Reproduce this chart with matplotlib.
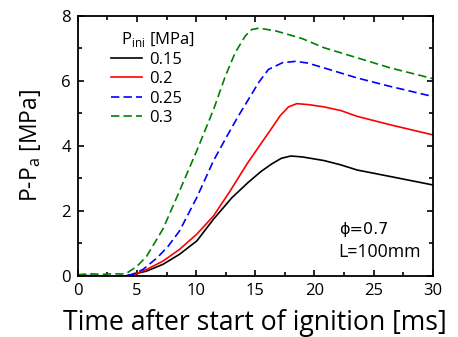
import numpy as np
import matplotlib
matplotlib.use("Agg")
import matplotlib.pyplot as plt
from matplotlib.ticker import MultipleLocator

plt.rcParams['font.family'] = ['Open Sans', 'DejaVu Sans']
plt.rcParams['mathtext.fontset'] = 'custom'
plt.rcParams['mathtext.rm'] = 'Open Sans'

# Pressure rise curves (time in ms, P-Pa in MPa)
t_015 = [0, 1, 2, 3, 4, 4.5, 5.8, 7.2, 8.6, 10.06, 11.47, 13.0, 14.4, 15.5, 16.4, 17.2, 18.0, 19.0, 20.8, 22.2, 23.6, 26.4, 30]
p_015 = [0.02, 0.01, 0.0, -0.02, 0.0, 0.04, 0.15, 0.36, 0.67, 1.08, 1.75, 2.4, 2.88, 3.22, 3.45, 3.62, 3.69, 3.66, 3.55, 3.42, 3.26, 3.06, 2.8]

t_02 = [0, 1, 2, 2.5, 3, 3.5, 4, 4.7, 5.8, 7.2, 8.6, 10.06, 11.47, 12.88, 14.3, 15.4, 16.3, 17.1, 17.8, 18.5, 19.5, 20.8, 22.2, 23.6, 26.4, 30]
p_02 = [0.02, 0.0, -0.02, -0.05, -0.06, -0.05, -0.02, 0.04, 0.2, 0.46, 0.82, 1.29, 1.85, 2.62, 3.45, 4.03, 4.5, 4.93, 5.2, 5.3, 5.27, 5.2, 5.09, 4.91, 4.65, 4.34]

t_025 = [0, 1, 2, 3, 4, 4.6, 5.5, 6.67, 7.6, 8.6, 10.06, 11.47, 12.6, 13.5, 14.4, 15.3, 16.1, 17.3, 18.4, 19.4, 20.8, 23.6, 26.4, 30]
p_025 = [0.03, 0.02, 0.0, -0.02, 0.0, 0.05, 0.2, 0.55, 0.9, 1.39, 2.42, 3.55, 4.3, 4.88, 5.42, 5.96, 6.35, 6.56, 6.6, 6.55, 6.4, 6.09, 5.83, 5.52]

t_03 = [0, 1, 2, 3, 3.7, 4.1, 5.0, 5.8, 7.2, 8.6, 10.06, 11.5, 12.46, 13.3, 14.15, 14.7, 15.3, 16.7, 18.96, 20.8, 23.6, 26.4, 30]
p_03 = [0.04, 0.07, 0.05, 0.07, 0.06, 0.08, 0.3, 0.6, 1.45, 2.62, 3.86, 5.15, 6.14, 6.87, 7.38, 7.58, 7.62, 7.54, 7.3, 7.02, 6.71, 6.4, 6.07]

labels = ['0.15', '0.2', '0.25', '0.3']

fig = plt.figure(figsize=(4.58, 3.37), dpi=100)
ax = fig.add_axes([0.170, 0.181, 0.775, 0.772])

dash = (0, (5, 2.5))
ax.plot(t_015, p_015, color='black', lw=1.2, label=labels[0])
ax.plot(t_02, p_02, color='red', lw=1.2, label=labels[1])
ax.plot(t_025, p_025, color='blue', lw=1.2, ls=dash, label=labels[2])
ax.plot(t_03, p_03, color='green', lw=1.2, ls=dash, label=labels[3])

ax.set_xlim(0, 30)
ax.set_ylim(0, 8)
ax.xaxis.set_major_locator(MultipleLocator(5))
ax.xaxis.set_minor_locator(MultipleLocator(2.5))
ax.yaxis.set_major_locator(MultipleLocator(2))
ax.yaxis.set_minor_locator(MultipleLocator(1))
ax.tick_params(which='both', direction='in', top=True, right=True, labelsize=12, width=1.2)
ax.tick_params(which='major', length=4, pad=5)
ax.tick_params(which='minor', length=3)
for s in ax.spines.values():
    s.set_linewidth(1.3)

ax.set_xlabel('Time after start of ignition [ms]', fontsize=19.2, labelpad=7)
ax.set_ylabel(r'P-P$_{\mathrm{a}}$ [MPa]', fontsize=16.5, labelpad=13)

leg = ax.legend(loc='upper left', bbox_to_anchor=(0.075, 0.887), frameon=False, fontsize=12,
                handlelength=1.85, handletextpad=0.45, labelspacing=0.2, borderaxespad=0)
ax.text(0.121, 0.908, r'P$_{\mathrm{ini}}$ [MPa]', transform=ax.transAxes, fontsize=12, va='center')

ax.text(0.735, 0.177, 'ϕ=0.7', transform=ax.transAxes, fontsize=11.5, va='center', family=['DejaVu Sans'])
ax.text(0.735, 0.092, 'L=100mm', transform=ax.transAxes, fontsize=12.8, va='center')

fig.savefig('out.png', dpi=100)
